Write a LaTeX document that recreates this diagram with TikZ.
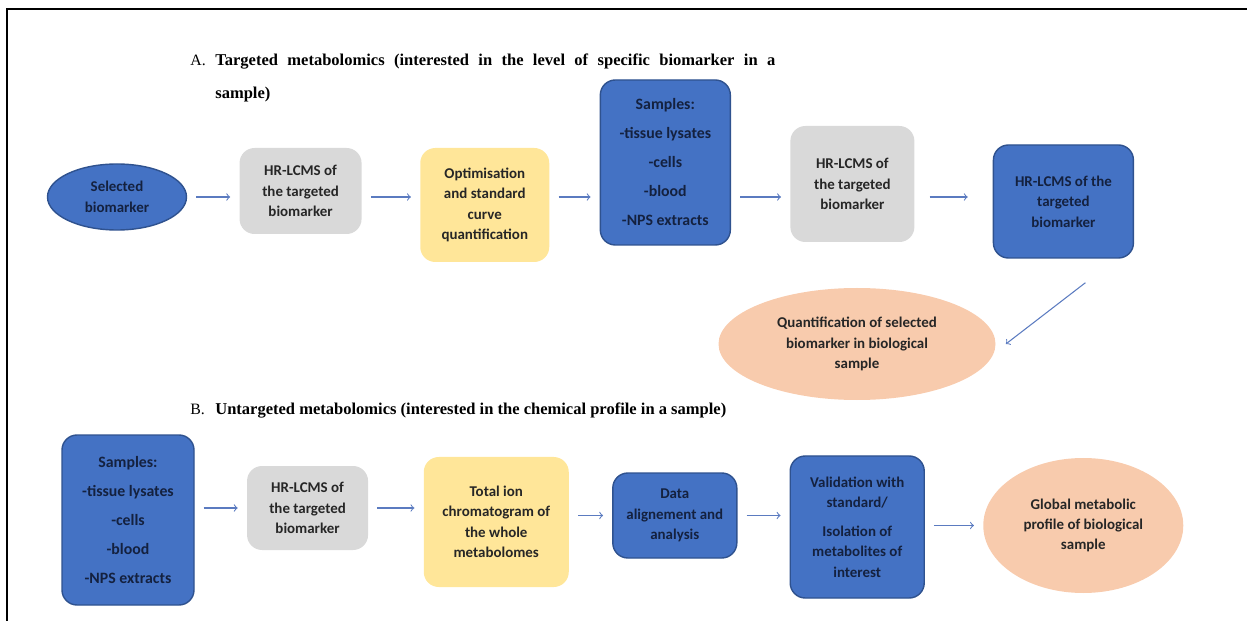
\documentclass[tikz,border=0pt]{standalone}
\usepackage{fontspec}
\setmainfont{Liberation Serif}
\newfontfamily\boxfont{Carlito}
\usepackage{tikz}
\usetikzlibrary{positioning}
\usetikzlibrary{shapes.geometric}
\definecolor{Blue}{HTML}{4472C4}
\definecolor{BlueLine}{HTML}{2F528F}
\definecolor{Navy}{HTML}{14213F}
\definecolor{Gray}{HTML}{D9D9D9}
\definecolor{Gold}{HTML}{FFE699}
\definecolor{Peach}{HTML}{F8CBAD}
\definecolor{Flow}{HTML}{5B7BC0}
\tikzset{
  box/.style={rectangle, rounded corners=0.3cm, align=center, inner sep=2pt,
    font=\boxfont\bfseries\fontsize{8.5}{11.6}\selectfont},
  bluebox/.style={box, fill=Blue, draw=BlueLine, line width=0.8pt, text=Navy},
  smpbox/.style={bluebox, font=\boxfont\bfseries\fontsize{9}{16.5}\selectfont},
  graybox/.style={box, fill=Gray, text=black!85},
  goldbox/.style={box, fill=Gold, text=black!85},
  oval/.style={ellipse, inner sep=0pt, align=center,
    font=\boxfont\bfseries\fontsize{8.5}{11.6}\selectfont},
  flow/.style={->, Flow, line width=0.6pt, shorten <=0.18cm, shorten >=0.18cm},
  title/.style={anchor=base west, inner sep=0pt, font=\bfseries\fontsize{9.4}{11}\selectfont},
  tag/.style={anchor=base west, inner sep=0pt, font=\fontsize{9}{11}\selectfont}
}
\begin{document}
\begin{tikzpicture}
        \useasboundingbox (0,0) rectangle (24.94,-12.42);
        \draw[line width=0.8pt] (0.14,-12.42) -- (0.14,-0.18) -- (24.94,-0.18);

        % headings
        \node[tag] (TAl) at (3.8,-1.32) {A.};
        \node[title] (TA) at (4.3,-1.32) {\makebox[11.2cm][s]{Targeted metabolomics (interested in the level of specific biomarker in a}};
        \node[title] (TA2) at ([yshift=-0.66cm]TA.base west) {sample)};
        \node[tag] (TBl) at (3.8,-8.28) {B.};
        \node[title] (TB) at (4.3,-8.28) {Untargeted metabolomics (interested in the chemical profile in a sample)};

        % targeted row
        \node[oval, fill=Blue, draw=BlueLine, line width=0.8pt, text=Navy, minimum width=2.78cm, minimum height=1.32cm] (Sel) at (2.34,-3.94) {Selected\\biomarker};
        \node[graybox, right=1.04cm of Sel, yshift=0.12cm, minimum width=2.44cm, minimum height=1.72cm] (H1) {HR-LCMS of\\the targeted\\biomarker};
        \node[goldbox, right=1.16cm of H1, yshift=-0.28cm, minimum width=2.58cm, minimum height=2.28cm] (Opt) {Optimisation\\and standard\\curve\\quantification};
        \node[smpbox, right=1.0cm of Opt, yshift=0.85cm, minimum width=2.6cm, minimum height=3.3cm] (Smp) {Samples:\\-tissue lysates\\-cells\\-blood\\-NPS extracts};
        \node[graybox, right=1.18cm of Smp, yshift=-0.43cm, minimum width=2.48cm, minimum height=2.32cm] (H2) {HR-LCMS of\\the targeted\\biomarker};
        \node[bluebox, right=1.56cm of H2, yshift=-0.35cm, minimum width=2.8cm, minimum height=2.26cm] (H3) {HR-LCMS of the\\targeted\\biomarker};
        \node[oval, fill=Peach, text=black!85, minimum width=5.54cm, minimum height=2.24cm] (Qnt) at (17.14,-6.88) {Quantification of selected\\biomarker in biological\\sample};

        % untargeted row
        \node[smpbox, minimum width=2.64cm, minimum height=3.4cm] (Smp2) at (2.56,-10.4) {Samples:\\-tissue lysates\\-cells\\-blood\\-NPS extracts};
        \node[graybox, right=1.04cm of Smp2, yshift=0.24cm, minimum width=2.42cm, minimum height=1.68cm] (H4) {HR-LCMS of\\the targeted\\biomarker};
        \node[goldbox, right=1.1cm of H4, yshift=-0.28cm, minimum width=2.9cm, minimum height=2.6cm] (Tic) {Total ion\\chromatogram of\\the whole\\metabolomes};
        \node[bluebox, right=0.86cm of Tic, yshift=0.13cm, minimum width=2.48cm, minimum height=1.7cm] (Dat) {Data\\alignement and\\analysis};
        \node[bluebox, right=1.04cm of Dat, yshift=-0.23cm, minimum width=2.68cm, minimum height=2.84cm] (Val) {Validation with\\standard/\\[5pt]Isolation of\\metabolites of\\interest};
        \node[oval, fill=Peach, text=black!85, right=1.16cm of Val, yshift=0.03cm, minimum width=4.0cm, minimum height=2.7cm] (Glb) {Global metabolic\\profile of biological\\sample};

        % edges
        \draw[flow] (Sel.east) -- (Sel.east -| H1.west);
        \draw[flow] (H1.east |- Sel) -- (Opt.west |- Sel);
        \draw[flow] (Opt.east |- Sel) -- (Smp.west |- Sel);
        \draw[flow] (Smp.east |- Sel) -- (H2.west |- Sel);
        \draw[flow, shorten <=0.3cm, shorten >=0.5cm] (H2.east |- Sel) -- (H3.west |- Sel);
        \draw[flow, shorten <=0pt, shorten >=0pt] ([shift={(0.44,-0.48)}]H3.south) -- ([xshift=0.2cm]Qnt.east);
        \draw[flow] (Smp2.east |- H4) -- (H4.west);
        \draw[flow] (H4.east) -- (Tic.west |- H4);
        \draw[flow] (Tic.east |- Dat) -- (Dat.west);
        \draw[flow] (Dat.east) -- (Val.west |- Dat);
        \draw[flow] (Val.east |- Glb) -- (Glb.west);
   \end{tikzpicture}
\end{document}
